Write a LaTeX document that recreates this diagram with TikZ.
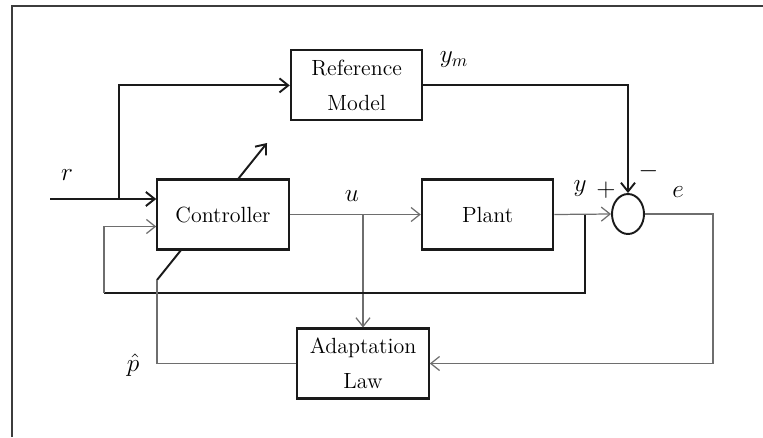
\documentclass[tikz,border=0pt]{standalone}
\usepackage{tikz}
\usepackage{xcolor}
\usetikzlibrary{positioning, arrows.meta, backgrounds, calc, shapes.geometric}
\definecolor{cLine}{HTML}{1A1A1A}
\definecolor{cThin}{HTML}{6E6E6E}
\definecolor{cFrame}{HTML}{3C3C3C}
\tikzset{
  blk/.style={
    rectangle, draw=cLine, fill=white,
    minimum width=2.63cm, minimum height=1.4cm,
    align=center, font=\fontsize{12.5}{20}\selectfont,
    line width=1.2pt, inner sep=2pt
  },
  sumnode/.style={
    ellipse, draw=cLine, fill=white,
    minimum width=0.64cm, minimum height=0.8cm,
    line width=1.1pt, inner sep=0pt
  },
  sig/.style={
    line width=1.1pt, draw=cLine
  },
  sigthin/.style={
    line width=0.7pt, draw=cThin
  },
  arr/.style={
    -{Straight Barb[length=5pt, width=8pt]}
  },
  lbl/.style={
    font=\fontsize{14}{16}\selectfont, inner sep=1pt
  }
}

\begin{document}
\begin{tikzpicture}
\useasboundingbox (0,0) rectangle (15.26,-8.74);

%% ── Frame ────────────────────────────────────────────────────────
\draw[line width=1pt, cFrame] (0.24,-8.74) |- (15.26,-0.12);

%% ── Blocks ───────────────────────────────────────────────────────

% Controller
\node[blk] (ctrl) at (4.46,-4.29) {Controller};

% Plant
\node[blk, right=2.62cm of ctrl] (plant) {Plant};

% Reference model
\node[blk, above right=1.14cm and 0cm of ctrl] (ref) {Reference\\Model};

% Adaptation law
\node[blk] (adapt) at (7.26,-7.27) {Adaptation\\Law};

% Summing junction
\node[sumnode] (sum) at (12.56,-4.28) {};

%% ── Branch points ────────────────────────────────────────────────
\coordinate (rin) at (1.0,-3.98);
\coordinate (rsplit) at (2.38,-3.98);
\coordinate (usplit) at (adapt.north |- ctrl.east);
\coordinate (ysplit) at ([xshift=0.62cm]plant.east);
\coordinate (yleft) at (2.08,-5.86);
\coordinate (ybot) at (ysplit |- yleft);
\coordinate (ecorner) at ([xshift=1.36cm]sum.east);
\coordinate (pleft) at (3.14,-5.6);
\coordinate (ptip) at (5.34,-2.86);

%% ── Signals ──────────────────────────────────────────────────────

% r → controller
\draw[sig, arr] (rin) -- (ctrl.west |- rin);

% r → reference model
\draw[sig, arr] (rsplit) |- (ref.west);

% controller → plant
\draw[sigthin, arr] (ctrl.east) -- (plant.west);

% u → adaptation law
\draw[sigthin, arr] (usplit) -- (adapt.north);

% plant → summing junction
\draw[sigthin, arr] (plant.east) -- (sum.west);

% reference model → summing junction
\draw[sig, arr] (ref.east) -| (sum.north);

% y fed back to controller
\draw[sig] (ysplit) -- (ybot) -- (yleft);
\draw[sigthin, arr] (yleft) |- ([yshift=-0.24cm]ctrl.west);

% e → adaptation law
\draw[sigthin, arr] (sum.east) -- (ecorner) |- (adapt.east);

% p-hat → controller
\draw[sigthin] (adapt.west) -| (pleft);

% adjustment arrow across the controller
\begin{scope}[on background layer]
  \draw[sig, arr] (pleft) -- (ptip);
\end{scope}

%% ── Labels ───────────────────────────────────────────────────────
\node[lbl] (lr) at (1.34,-3.5) {$r$};
\node[lbl] (lu) at (7.04,-3.92) {$u$};
\node[lbl] (lym) at (9.08,-1.2) {$y_m$};
\node[lbl] (ly) at (11.6,-3.78) {$y$};
\node[lbl] (lplus) at (12.12,-3.8) {$+$};
\node[lbl] (lminus) at (12.97,-3.43) {$-$};
\node[lbl] (le) at (13.56,-3.84) {$e$};
\node[lbl] (lp) at (2.66,-7.3) {$\hat{p}$};

\end{tikzpicture}
\end{document}
